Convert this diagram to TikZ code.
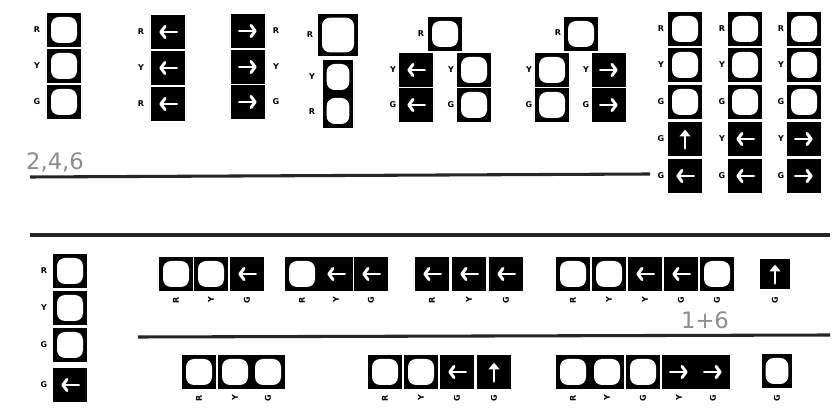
\documentclass[tikz,border=0pt]{standalone}
\usepackage{fontspec}
\newfontfamily\handfont{DejaVu Sans}
\newfontfamily\lblfont{DejaVu Sans}
\usetikzlibrary{arrows.meta}
\tikzset{
  box/.style={rectangle, fill=black, inner sep=0pt, minimum width=25.5pt, minimum height=25.5pt},
  W/.style={box, path picture={\fill[white, rounded corners=6pt]
     ([shift={(3pt,3pt)}]path picture bounding box.south west) rectangle
     ([shift={(-3pt,-3pt)}]path picture bounding box.north east);}},
  L/.style={box, path picture={\draw[white, line width=2.2pt, line cap=round,
     -{Straight Barb[length=3.2pt,width=8.5pt,round]}]
     ([xshift=6.5pt]path picture bounding box.center) -- ([xshift=-6.5pt]path picture bounding box.center);}},
  R/.style={box, path picture={\draw[white, line width=2.2pt, line cap=round,
     -{Straight Barb[length=3.2pt,width=8.5pt,round]}]
     ([xshift=-6.5pt]path picture bounding box.center) -- ([xshift=6.5pt]path picture bounding box.center);}},
  U/.style={box, path picture={\draw[white, line width=2.2pt, line cap=round,
     -{Triangle[length=5pt,width=8pt]}]
     ([yshift=-7pt]path picture bounding box.center) -- ([yshift=7pt]path picture bounding box.center);}},
  lb/.style={font=\lblfont\fontsize{6}{6}\selectfont\bfseries, inner sep=0pt},
  lbr/.style={lb, rotate=90},
  rule/.style={line width=2.3pt, black!85},
  hand/.style={font=\handfont\fontsize{17}{17}\selectfont, text=black!45}
}
\begin{document}
\begin{tikzpicture}[x=0.75pt,y=-0.75pt]
\useasboundingbox[fill=white] (0,0) rectangle (833,409);
% ---------- top row ----------
% head 1
\node[W] (a1) at (64,30) {}; \node[W] (a2) at (64,66) {}; \node[W] (a3) at (64,102) {};
\node[lb] (la1) at (37,30) {R}; \node[lb] (la2) at (37,66) {Y}; \node[lb] (la3) at (37,102) {G};
% head 2
\node[L] (b1) at (168,32) {}; \node[L] (b2) at (168,68) {}; \node[L] (b3) at (168,104) {};
\node[lb] (lb1) at (141,32) {R}; \node[lb] (lb2) at (141,68) {Y}; \node[lb] (lb3) at (141,104) {R};
% head 3
\node[R] (c1) at (248,31) {}; \node[R] (c2) at (248,67) {}; \node[R] (c3) at (248,102) {};
\node[lb] (lc1) at (276,31) {R}; \node[lb] (lc2) at (276,67) {Y}; \node[lb] (lc3) at (276,102) {G};
% head 4
\node[W, minimum width=30pt, minimum height=32pt] (d1) at (338,35) {};
\node[W, minimum width=23pt] (d2) at (338,77) {}; \node[W, minimum width=23pt] (d3) at (338,111) {};
\node[lb] (ld1) at (310,35) {R}; \node[lb] (ld2) at (312,77) {Y}; \node[lb] (ld3) at (312,112) {R};
% head 5
\node[W] (e1) at (445,34) {};
\node[L] (e2) at (416,70) {}; \node[L] (e3) at (416,105) {};
\node[W] (e4) at (474,70) {}; \node[W] (e5) at (474,105) {};
\node[lb] (le1) at (421,34) {R}; \node[lb] (le2) at (393,70) {Y}; \node[lb] (le3) at (393,105) {G};
\node[lb] (le4) at (451,70) {Y}; \node[lb] (le5) at (451,105) {G};
% head 6
\node[W] (f1) at (581,34) {};
\node[W] (f2) at (552,70) {}; \node[W] (f3) at (552,105) {};
\node[R] (f4) at (609,70) {}; \node[R] (f5) at (609,105) {};
\node[lb] (lf1) at (558,33) {R}; \node[lb] (lf2) at (529,70) {Y}; \node[lb] (lf3) at (529,105) {G};
\node[lb] (lf4) at (586,70) {Y}; \node[lb] (lf5) at (586,105) {G};
% heads 7-9
\node[W] (g1) at (685,29) {}; \node[W] (g2) at (685,65) {}; \node[W] (g3) at (685,102) {};
\node[U] (g4) at (685,139) {}; \node[L] (g5) at (685,176) {};
\node[W] (h1) at (745,29) {}; \node[W] (h2) at (745,65) {}; \node[W] (h3) at (745,102) {};
\node[L] (h4) at (745,139) {}; \node[L] (h5) at (745,176) {};
\node[W] (i1) at (804,29) {}; \node[W] (i2) at (804,65) {}; \node[W] (i3) at (804,102) {};
\node[R] (i4) at (804,139) {}; \node[R] (i5) at (804,176) {};
\node[lb] (lg1) at (661,29) {R}; \node[lb] (lg2) at (661,65) {Y}; \node[lb] (lg3) at (661,102) {G};
\node[lb] (lg4) at (661,139) {G}; \node[lb] (lg5) at (661,176) {G};
\node[lb] (lh1) at (722,29) {R}; \node[lb] (lh2) at (722,65) {Y}; \node[lb] (lh3) at (722,102) {G};
\node[lb] (lh4) at (722,139) {Y}; \node[lb] (lh5) at (722,176) {G};
\node[lb] (li1) at (781,29) {R}; \node[lb] (li2) at (781,65) {Y}; \node[lb] (li3) at (781,102) {G};
\node[lb] (li4) at (781,139) {Y}; \node[lb] (li5) at (781,176) {G};
% rule 1 and note
\coordinate (r1a) at (30,177); \coordinate (r1b) at (650,174);
\draw[rule] (r1a) -- (r1b);
\node[hand] (n246) at (55,162) {2,4,6};
% ---------- lower part ----------
\coordinate (r2a) at (30,235); \coordinate (r2b) at (830,235);
\draw[rule] (r2a) -- (r2b);
% left vertical head
\node[W] (j1) at (70,271) {}; \node[W] (j2) at (70,308) {}; \node[W] (j3) at (70,345) {};
\node[L] (j4) at (70,385) {};
\node[lb] (lj1) at (44,271) {R}; \node[lb] (lj2) at (44,308) {Y}; \node[lb] (lj3) at (44,345) {G};
\node[lb] (lj4) at (44,385) {G};
% row A
\node[W] (k1) at (176,274) {}; \node[W] (k2) at (211,274) {}; \node[L] (k3) at (247,274) {};
\node[W] (m1) at (302,274) {}; \node[L] (m2) at (336,274) {}; \node[L] (m3) at (371,274) {};
\node[L] (p1) at (432,274) {}; \node[L] (p2) at (469,274) {}; \node[L] (p3) at (506,274) {};
\node[W] (q1) at (573,274) {}; \node[W] (q2) at (609,274) {}; \node[L] (q3) at (645,274) {};
\node[L] (q4) at (681,274) {}; \node[W] (q5) at (717,274) {};
\node[U, minimum width=23pt, minimum height=22pt] (s1) at (775,274) {};
\foreach \n/\x/\t in {k1/176/R,k2/211/Y,k3/247/G,m1/302/R,m2/336/Y,m3/371/G,p1/432/R,p2/469/Y,p3/506/G,
                      q1/573/R,q2/609/Y,q3/645/Y,q4/681/G,q5/717/G,s1/775/G}
  \node[lbr] (l\n) at (\x,300) {\t};
\node[hand] (n16) at (705,320) {1+6};
\coordinate (r3a) at (138,337); \coordinate (r3b) at (830,335);
\draw[rule] (r3a) -- (r3b);
% row B
\node[W] (t1) at (199,372) {}; \node[W] (t2) at (235,372) {}; \node[W] (t3) at (268,372) {};
\node[W] (u1) at (385,372) {}; \node[W] (u2) at (421,372) {}; \node[L] (u3) at (457,372) {};
\node[U] (u4) at (494,372) {};
\node[W] (v1) at (573,372) {}; \node[W] (v2) at (607,372) {}; \node[W] (v3) at (643,372) {};
\node[R] (v4) at (679,372) {}; \node[R] (v5) at (713,372) {};
\node[W, minimum width=23pt] (w1) at (777,371) {};
\foreach \n/\x/\t in {t1/199/R,t2/235/Y,t3/268/G,u1/385/R,u2/421/Y,u3/457/G,u4/494/G,
                      v1/573/R,v2/607/Y,v3/643/G,v4/679/Y,v5/713/G,w1/777/G}
  \node[lbr] (l\n) at (\x,398) {\t};
\end{tikzpicture}
\end{document}
